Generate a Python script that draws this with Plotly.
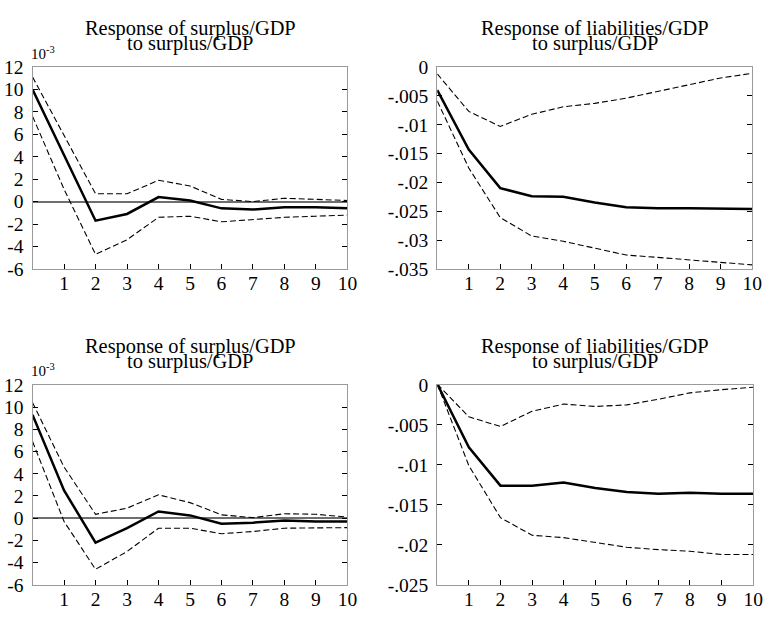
import plotly.graph_objects as go

# horizons
periods = [0, 1, 2, 3, 4, 5, 6, 7, 8, 9, 10]
x_ticks = [1, 2, 3, 4, 5, 6, 7, 8, 9, 10]

# Panel 1 (top-left): surplus/GDP to surplus/GDP, units of 1e-3
p1_mid = [10.0, 4.2, -1.7, -1.1, 0.4, 0.1, -0.6, -0.7, -0.5, -0.5, -0.6]
p1_up = [11.1, 5.9, 0.7, 0.7, 1.9, 1.4, 0.2, 0.0, 0.3, 0.2, 0.1]
p1_lo = [7.6, 1.1, -4.7, -3.4, -1.4, -1.3, -1.8, -1.6, -1.4, -1.3, -1.2]

# Panel 2 (top-right): liabilities/GDP to surplus/GDP
p2_mid = [-0.0040, -0.0143, -0.0210, -0.0224, -0.0225, -0.0235, -0.0243, -0.0245, -0.0245, -0.0245, -0.0246]
p2_up = [-0.0012, -0.0077, -0.0103, -0.0082, -0.0069, -0.0063, -0.0054, -0.0042, -0.0031, -0.0019, -0.0011]
p2_lo = [-0.0059, -0.0175, -0.0261, -0.0293, -0.0302, -0.0314, -0.0326, -0.0330, -0.0334, -0.0338, -0.0343]

# Panel 3 (bottom-left): surplus/GDP to surplus/GDP, units of 1e-3
p3_mid = [9.3, 2.5, -2.2, -0.9, 0.6, 0.25, -0.5, -0.4, -0.2, -0.3, -0.3]
p3_up = [10.4, 4.6, 0.35, 0.9, 2.1, 1.4, 0.3, 0.05, 0.4, 0.35, 0.1]
p3_lo = [6.9, -0.3, -4.6, -3.0, -0.9, -0.9, -1.4, -1.2, -0.9, -0.85, -0.85]

# Panel 4 (bottom-right): liabilities/GDP to surplus/GDP
p4_mid = [0.0001, -0.0078, -0.0126, -0.0126, -0.0122, -0.0129, -0.0134, -0.0136, -0.0135, -0.0136, -0.0136]
p4_up = [0.0001, -0.0040, -0.0052, -0.0033, -0.0024, -0.0027, -0.0025, -0.0018, -0.0010, -0.0006, -0.0003]
p4_lo = [0.0001, -0.0101, -0.0166, -0.0188, -0.0191, -0.0197, -0.0203, -0.0206, -0.0208, -0.0212, -0.0212]

# tick labels
left_ticks = [-6, -4, -2, 0, 2, 4, 6, 8, 10, 12]
top_right_ticks = [0, -0.005, -0.01, -0.015, -0.02, -0.025, -0.03, -0.035]
top_right_labels = ["0", "-.005", "-.01", "-.015", "-.02", "-.025", "-.03", "-.035"]
bot_right_ticks = [0, -0.005, -0.01, -0.015, -0.02, -0.025]
bot_right_labels = ["0", "-.005", "-.01", "-.015", "-.02", "-.025"]

title_line1 = ["Response of surplus/GDP", "Response of liabilities/GDP",
               "Response of surplus/GDP", "Response of liabilities/GDP"]
title_line2 = ["to surplus/GDP", "to surplus/GDP", "to surplus/GDP", "to surplus/GDP"]
scale_label = "10<sup>-3</sup>"

FONT = "Liberation Serif"
W, H = 773, 620

# panel domains (pixels -> paper)
px_x = [(33, 352), (443, 762), (33, 352), (443, 763)]
px_y = [(59, 268), (59, 268), (388, 595), (388, 595)]

panels = [
    (p1_mid, p1_up, p1_lo),
    (p2_mid, p2_up, p2_lo),
    (p3_mid, p3_up, p3_lo),
    (p4_mid, p4_up, p4_lo),
]

fig = go.Figure()
for i, (mid, up, lo) in enumerate(panels):
    xa = "x" if i == 0 else f"x{i+1}"
    ya = "y" if i == 0 else f"y{i+1}"
    for series, width, dash in ((up, 1.1, "6px,3px"), (lo, 1.1, "6px,3px"), (mid, 2.5, "solid")):
        fig.add_trace(go.Scatter(
            x=periods, y=series, mode="lines", xaxis=xa, yaxis=ya,
            line=dict(color="black", width=width, dash=dash),
            showlegend=False, hoverinfo="skip",
        ))

layout = dict(
    width=W, height=H,
    margin=dict(l=0, r=0, t=0, b=0),
    paper_bgcolor="white", plot_bgcolor="white",
    font=dict(family=FONT, size=19.5, color="black"),
    showlegend=False,
)

y_specs = [
    dict(range=[-6, 12], tickvals=left_ticks, ticktext=[str(v) for v in left_ticks],
         zeroline=True),
    dict(range=[-0.035, 0], tickvals=top_right_ticks, ticktext=top_right_labels, zeroline=False),
    dict(range=[-6, 12], tickvals=left_ticks, ticktext=[str(v) for v in left_ticks],
         zeroline=True),
    dict(range=[-0.025, 0], tickvals=bot_right_ticks, ticktext=bot_right_labels, zeroline=False),
]

annotations = []
for i in range(4):
    xs = "xaxis" if i == 0 else f"xaxis{i+1}"
    ys = "yaxis" if i == 0 else f"yaxis{i+1}"
    x0, x1 = px_x[i]
    y0, y1 = px_y[i]
    xd = [x0 / W, x1 / W]
    yd = [1 - y1 / H, 1 - y0 / H]
    layout[xs] = dict(
        domain=xd, range=[0, 10], tickvals=x_ticks, ticks="inside", ticklen=5,
        tickcolor="black", showline=True, linecolor="#9a9a9a", linewidth=1.2,
        mirror=True, showgrid=False, zeroline=False, ticklabelstandoff=-3,
        ticklabeloverflow="allow",
        anchor="y" if i == 0 else f"y{i+1}",
        tickfont=dict(family=FONT, size=19.5, color="black"),
    )
    ys_spec = y_specs[i]
    layout[ys] = dict(
        domain=yd, range=ys_spec["range"], tickvals=ys_spec["tickvals"],
        ticktext=ys_spec["ticktext"], ticks="inside", ticklen=5, tickcolor="black",
        showline=True, linecolor="#9a9a9a", linewidth=1.2, mirror="ticks",
        showgrid=False, zeroline=ys_spec["zeroline"], zerolinecolor="#6e6e6e",
        zerolinewidth=1.5, ticklabeloverflow="allow", ticklabelstandoff=4,
        anchor="x" if i == 0 else f"x{i+1}",
        tickfont=dict(family=FONT, size=19.5, color="black"),
    )
    xc = (xd[0] + xd[1]) / 2
    annotations.append(dict(
        text=title_line1[i], xref="paper", yref="paper",
        x=xc, y=1 - (y0 - 40) / H,
        xanchor="center", yanchor="middle", showarrow=False,
        font=dict(family=FONT, size=20.4, color="black"),
    ))
    annotations.append(dict(
        text=title_line2[i], xref="paper", yref="paper",
        x=xc, y=1 - (y0 - 24) / H,
        xanchor="center", yanchor="middle", showarrow=False,
        font=dict(family=FONT, size=20.4, color="black"),
    ))
    if i in (0, 2):
        annotations.append(dict(
            text=scale_label, xref="paper", yref="paper",
            x=xd[0] - 4 / W, y=1 - (y0 - 15) / H,
            xanchor="left", yanchor="middle", showarrow=False,
            font=dict(family=FONT, size=15, color="black"),
        ))

layout["annotations"] = annotations
fig.update_layout(**layout)
fig.write_html(
    "out.html",
    config={"displayModeBar": False},
    post_script="document.body.style.margin='0';document.body.style.overflow='hidden';",
)
